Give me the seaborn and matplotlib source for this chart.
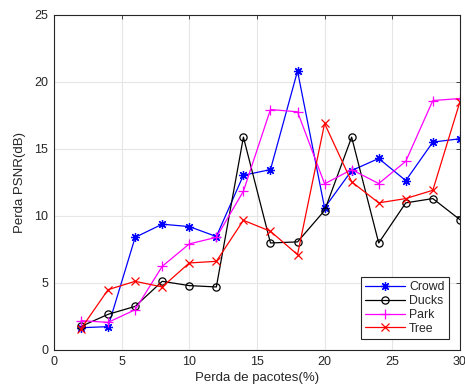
import matplotlib
matplotlib.use("Agg")
import matplotlib.pyplot as plt
import seaborn as sns
import pandas as pd

x = [2, 4, 6, 8, 10, 12, 14, 16, 18, 20, 22, 24, 26, 28, 30]
crowd = [1.66, 1.74, 8.4, 9.38, 9.2, 8.46, 13.03, 13.45, 20.8, 10.6, 13.38, 14.28, 12.63, 15.5, 15.75]
ducks = [1.76, 2.66, 3.25, 5.12, 4.8, 4.7, 15.87, 7.98, 8.06, 10.4, 15.87, 7.98, 10.97, 11.29, 9.72]
park = [2.19, 2.06, 3.0, 6.24, 7.91, 8.4, 11.84, 17.93, 17.76, 12.39, 13.45, 12.41, 14.07, 18.6, 18.75]
tree = [1.59, 4.5, 5.12, 4.7, 6.49, 6.61, 9.67, 8.85, 7.11, 16.89, 12.54, 10.97, 11.29, 11.91, 18.5]
series_names = ["Crowd", "Ducks", "Park", "Tree"]
colors = ["#0000ff", "#000000", "#ff00ff", "#ff0000"]
markers = [(8, 2, 0), "o", "+", "x"]
msizes = [6.5, 5.2, 7, 5.5]
x_ticks = [0, 5, 10, 15, 20, 25, 30]
y_ticks = [0, 5, 10, 15, 20, 25]

sns.set_style("white")
plt.rcParams['font.family'] = ['Liberation Sans', 'DejaVu Sans']

df = pd.DataFrame({"x": x * 4,
                   "y": crowd + ducks + park + tree,
                   "s": sum([[n] * len(x) for n in series_names], [])})

fig = plt.figure(figsize=(4.65, 3.9), dpi=100)
ax = fig.add_axes([0.1161, 0.1026, 0.8729, 0.8597])

for name, c, m, ms in zip(series_names, colors, markers, msizes):
    sub = df[df.s == name]
    sns.lineplot(data=sub, x="x", y="y", ax=ax, color=c, linewidth=0.9,
                 label=name, marker=m, markersize=ms, markeredgewidth=0.9,
                 markerfacecolor="none", markeredgecolor=c)

ax.set_xlim(0, 30)
ax.set_ylim(0, 25)
ax.set_xticks(x_ticks)
ax.set_yticks(y_ticks)
ax.grid(True, color="#e6e6e6", linewidth=0.8)
ax.set_axisbelow(True)
ax.tick_params(direction="in", length=3, width=0.6, labelsize=9, colors="#262626",
               top=True, right=True, labeltop=False, labelright=False, pad=4)
for s in ax.spines.values():
    s.set_color("#262626")
    s.set_linewidth(0.8)
ax.set_xlabel("Perda de pacotes(%)", fontsize=9.5, color="#262626", labelpad=3)
ax.set_ylabel("Perda PSNR(dB)", fontsize=9.5, color="#262626", labelpad=6)

leg = ax.legend(loc="lower right", fontsize=8.8, frameon=True, fancybox=False,
                edgecolor="#262626", framealpha=1, borderpad=0.35, handlelength=3.3,
                labelspacing=0.15, handletextpad=0.3, borderaxespad=0.9)
leg.get_frame().set_linewidth(0.8)

fig.savefig("out.png", dpi=100)
